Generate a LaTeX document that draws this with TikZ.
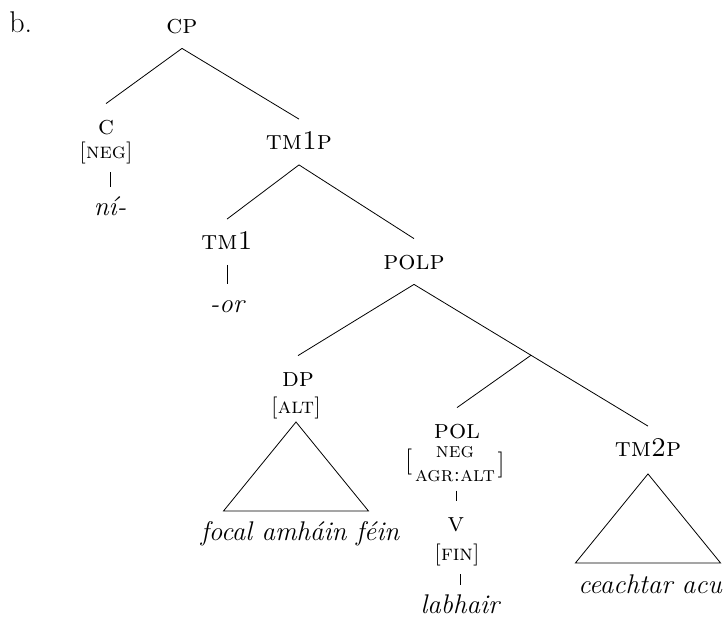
\documentclass[tikz,border=0pt]{standalone}
\usepackage{tikz}
\usetikzlibrary{calc}

\newcommand{\lblfont}{\fontsize{13.5}{15}\selectfont\scshape}
\newcommand{\featfont}{\fontsize{11}{13}\selectfont\scshape}
\newcommand{\stackfont}{\fontsize{10.5}{11}\selectfont\scshape}
\newcommand{\leaffont}{\fontsize{13.5}{15}\selectfont\itshape}

\begin{document}
\begin{tikzpicture}[x=5pt, y=-5pt,
    lbl/.style={font=\lblfont, inner sep=0pt, anchor=base, text height=15pt, text depth=7.5pt},
    feat/.style={font=\featfont, inner sep=0pt, anchor=base, text depth=7pt},
    leaf/.style={font=\leaffont, inner sep=0pt, anchor=base, text height=14pt},
    brk/.style={font=\fontsize{13}{15}\selectfont, inner sep=0pt}]
    \useasboundingbox (0,0) rectangle (72.3,61.6);
    % Example label
    \node[font=\fontsize{15}{17}\selectfont, inner sep=0pt, anchor=base west] (ex) at (0.9,3.2) {b.};
    % Nodes
    \node[lbl] (cp) at (18.2,3.3) {cp};
    \node[lbl] (c) at (10.6,13.4) {c};
    \node[feat] (cneg) at (10.6,15.8) {[neg]};
    \node[leaf] (ni) at (11.0,21.5) {ní-};
    \node[lbl] (tm1p) at (29.9,14.95) {tm1p};
    \node[lbl] (tm1) at (22.7,24.95) {tm1};
    \node[leaf] (or) at (22.7,31.2) {-or};
    \node[lbl] (polp) at (41.4,26.9) {polp};
    \node[lbl] (dp) at (29.8,38.6) {dp};
    \node[feat] (alt) at (29.6,41.3) {[alt]};
    \node[leaf] (focal) at (30.0,54.0) {focal amháin féin};
    \node[lbl] (pol) at (45.7,43.8) {pol};
    \node[font=\stackfont, align=center, inner sep=0pt] (polf) at (45.5,46.45) {neg\\[1pt]agr:alt};
    \node[brk, anchor=east] (lbrk) at ([xshift=-1pt,yshift=1.5pt]polf.west) {[};
    \node[brk, anchor=west] (rbrk) at ([xshift=1pt]polf.east) {]};
    \node[lbl] (v) at (45.6,53.1) {v};
    \node[feat] (fin) at (45.7,56.0) {[fin]};
    \node[leaf] (labhair) at (46.0,61.3) {labhair};
    \node[lbl] (tm2p) at (64.8,45.65) {tm2p};
    \node[leaf] (ceachtar) at (65.0,59.3) {ceachtar acu};
    \coordinate (polbar) at ($(polp.south)!0.5!(tm2p.north)$);
    % Branches
    \draw (cp.south) -- (c.north);
    \draw (cp.south) -- (tm1p.north);
    \draw (tm1p.south) -- (tm1.north);
    \draw (tm1p.south) -- (polp.north);
    \draw (polp.south) -- (dp.north);
    \draw (polp.south) -- (polbar) -- (tm2p.north);
    \draw (polbar) -- (pol.north);
    % Head lines
    \draw (ni.north |- cneg.south) -- (ni.north);
    \draw (tm1.south) -- (or.north);
    \draw ([yshift=-4pt]v.north |- polf.south) -- (v.north);
    \draw (labhair.north |- fin.south) -- (labhair.north);
    % Triangles
    \draw ([yshift=-4.5pt]alt.base) -- ++(-7.25,8.9) -- ++(14.5,0) -- cycle;
    \draw ([yshift=-1pt]tm2p.south) -- ++(-7.25,8.9) -- ++(14.5,0) -- cycle;
\end{tikzpicture}
\end{document}
